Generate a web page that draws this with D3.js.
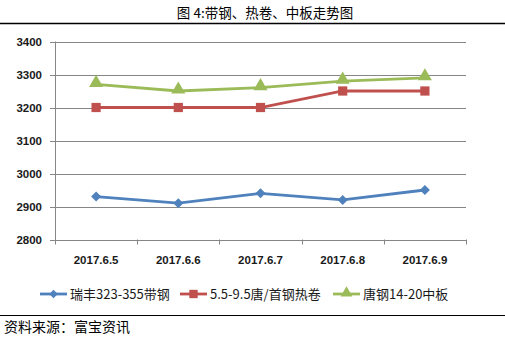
<!DOCTYPE html>
<html><head><meta charset="utf-8">
<script src="https://cdn.jsdelivr.net/npm/d3@7"></script>
<style>body{margin:0;background:#fff}svg{display:block}</style>
</head><body>
<svg id="c" width="505" height="339"></svg>
<script>
const categories = ["2017.6.5","2017.6.6","2017.6.7","2017.6.8","2017.6.9"];
const seriesNames = ["瑞丰323-355带钢","5.5-9.5唐/首钢热卷","唐钢14-20中板"];
const ruifeng = [2930,2910,2940,2920,2950];
const tangshou = [3200,3200,3200,3250,3250];
const tanggang = [3270,3250,3260,3280,3290];
const yTicks = [2800,2900,3000,3100,3200,3300,3400];
const titleText = "图 4:带钢、热卷、中板走势图";
const sourceText = "资料来源：富宝资讯";

const colors = ["#4F81BD","#C0504D","#9BBB59"];
const shapes = [d3.symbolSquare, d3.symbolSquare, d3.symbolTriangle];
const rot = [45,0,0];
const series = [ruifeng, tangshou, tanggang];

const svg = d3.select("#c");
const x = d3.scaleBand().domain(categories).range([55,466]);
const y = d3.scaleLinear().domain([2800,3400]).range([239.5,41.5]);
const font = "'Liberation Sans', Arial, sans-serif";
const cjk = "'Noto Sans CJK SC', sans-serif";

svg.append("text").attr("x",265).attr("y",18).attr("text-anchor","middle")
  .attr("font-family",cjk).attr("font-size",13.5).attr("fill","#000").text(titleText);
svg.append("line").attr("x1",0).attr("x2",505).attr("y1",23.5).attr("y2",23.5).attr("stroke","#000").attr("stroke-width",1.3);

svg.append("g").selectAll("line").data(yTicks).join("line")
  .attr("x1",50).attr("x2",466).attr("y1",d=>Math.round(y(d))+0.5).attr("y2",d=>Math.round(y(d))+0.5)
  .attr("stroke","#868686").attr("stroke-width",1);
svg.append("g").selectAll("text").data(yTicks).join("text")
  .attr("x",42).attr("y",d=>y(d)+4).attr("text-anchor","end")
  .attr("font-family",font).attr("font-size",11.5).attr("font-weight","bold").attr("fill","#1a1a1a").text(d=>d);
svg.append("line").attr("x1",55.5).attr("x2",55.5).attr("y1",y(3400)).attr("y2",y(2800)+4).attr("stroke","#868686");
const bounds = categories.map(c=>x(c)).concat([x.range()[1]]);
svg.append("g").selectAll("line").data(bounds).join("line")
  .attr("x1",d=>Math.round(d)+0.5).attr("x2",d=>Math.round(d)+0.5).attr("y1",y(2800)).attr("y2",y(2800)+5)
  .attr("stroke","#868686");
svg.append("g").selectAll("text").data(categories).join("text")
  .attr("x",d=>x(d)+x.bandwidth()/2).attr("y",264).attr("text-anchor","middle")
  .attr("font-family",font).attr("font-size",11.5).attr("font-weight","bold").attr("fill","#1a1a1a").text(d=>d);

const line = d3.line().x((d,i)=>x(categories[i])+x.bandwidth()/2).y(d=>y(d));
series.forEach((s,k)=>{
  svg.append("path").datum(s).attr("d",line).attr("fill","none")
    .attr("stroke",colors[k]).attr("stroke-width",2.8);
  const sz = k===0?50:(k===1?85:85);
  svg.append("g").selectAll("path").data(s).join("path")
    .attr("transform",(d,i)=>`translate(${x(categories[i])+x.bandwidth()/2},${y(d)+(k===2?-1.5:0)}) rotate(${rot[k]})`)
    .attr("d",d3.symbol().type(shapes[k]).size(sz)).attr("fill",colors[k]);
});

const legX = [40,180,333];
seriesNames.forEach((n,k)=>{
  const g = svg.append("g").attr("transform",`translate(${legX[k]},294)`);
  g.append("line").attr("x1",0).attr("x2",27).attr("stroke",colors[k]).attr("stroke-width",2.8);
  g.append("path").attr("transform",`translate(13.5,${k===2?-1:0}) rotate(${rot[k]})`).attr("d",d3.symbol().type(shapes[k]).size(k===0?36:(k===1?70:60))).attr("fill",colors[k]);
  g.append("text").attr("x",30).attr("y",5).attr("font-family",cjk).attr("font-size",13).attr("fill","#1a1a1a").text(n);
});

svg.append("line").attr("x1",0).attr("x2",505).attr("y1",315.5).attr("y2",315.5).attr("stroke","#000").attr("stroke-width",1.2);
svg.append("text").attr("x",4).attr("y",332).attr("font-family",cjk).attr("font-size",14).attr("fill","#000").text(sourceText);
</script>
</body></html>
